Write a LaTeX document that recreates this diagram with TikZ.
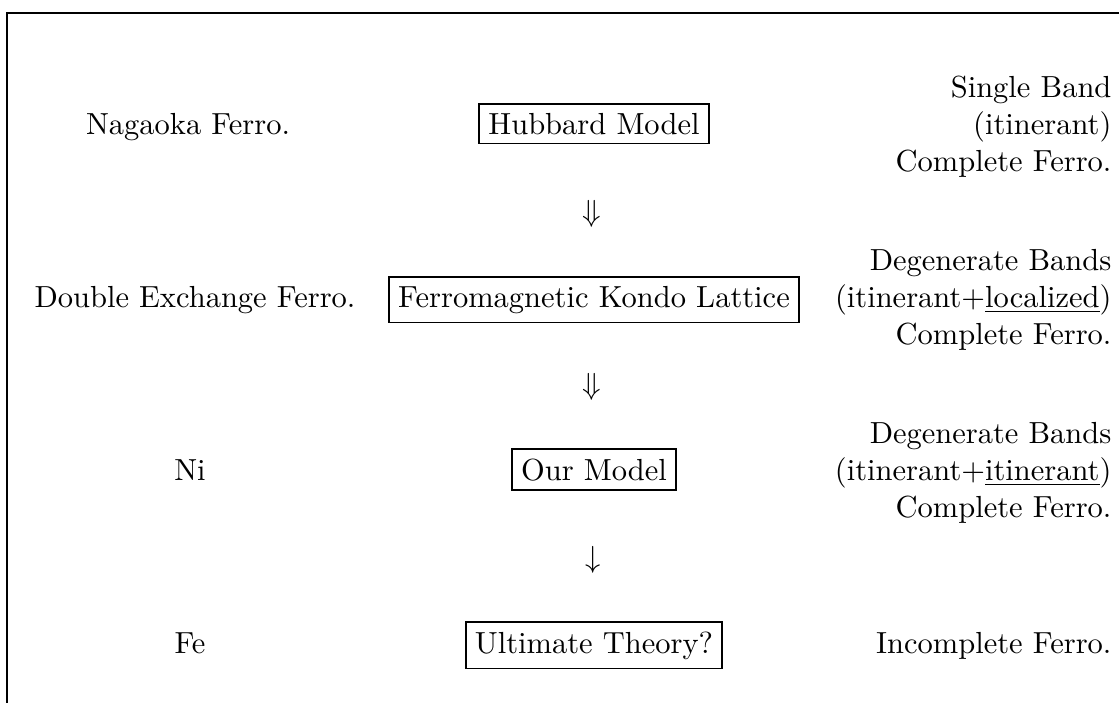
\documentclass[tikz,border=0pt]{standalone}
\begin{document}
\begin{tikzpicture}[x=0.3279pt,y=-0.3279pt,
  lbl/.style={anchor=base,inner sep=0pt},
  rlbl/.style={anchor=base east,inner sep=0pt},
  model/.style={draw,line width=0.6pt,inner sep=3pt,anchor=base},
  arr/.style={anchor=base,inner sep=0pt}]
\useasboundingbox (0,0) rectangle (1119,703);
\coordinate (tl) at (7,13);
\coordinate (tr) at (1119,13);
\coordinate (bl) at (7,703);
\draw[line width=0.65pt] (tr) -- (tl) -- (bl);
% left column
\node[lbl] (l1) at (188,134) {Nagaoka Ferro.};
\node[lbl] (l2) at (195,307) {Double Exchange Ferro.};
\node[lbl] (l3) at (190,480) {Ni};
\node[lbl] (l4) at (190,653) {Fe};
% center column
\node[model] (m1) at (594,134) {Hubbard Model};
\node[model] (m2) at (594,307) {Ferromagnetic Kondo Lattice};
\node[model] (m3) at (594,480) {Our Model};
\node[model] (m4) at (594,653) {Ultimate Theory?};
\node[arr] (a1) at (592,221) {$\Downarrow$};
\node[arr] (a2) at (592,394) {$\Downarrow$};
\node[arr] (a3) at (593,567) {$\downarrow$};
% right column
\node[rlbl] (r1a) at (1112,97) {Single Band};
\node[rlbl] (r1b) at (1112,134) {(itinerant)};
\node[rlbl] (r1c) at (1112,171) {Complete Ferro.};
\node[rlbl] (r2a) at (1112,270) {Degenerate Bands};
\node[rlbl] (r2b) at (1112,307) {(itinerant+\underline{localized})};
\node[rlbl] (r2c) at (1112,344) {Complete Ferro.};
\node[rlbl] (r3a) at (1112,443) {Degenerate Bands};
\node[rlbl] (r3b) at (1112,480) {(itinerant+\underline{itinerant})};
\node[rlbl] (r3c) at (1112,517) {Complete Ferro.};
\node[rlbl] (r4) at (1112,653) {Incomplete Ferro.};
\end{tikzpicture}
\end{document}
